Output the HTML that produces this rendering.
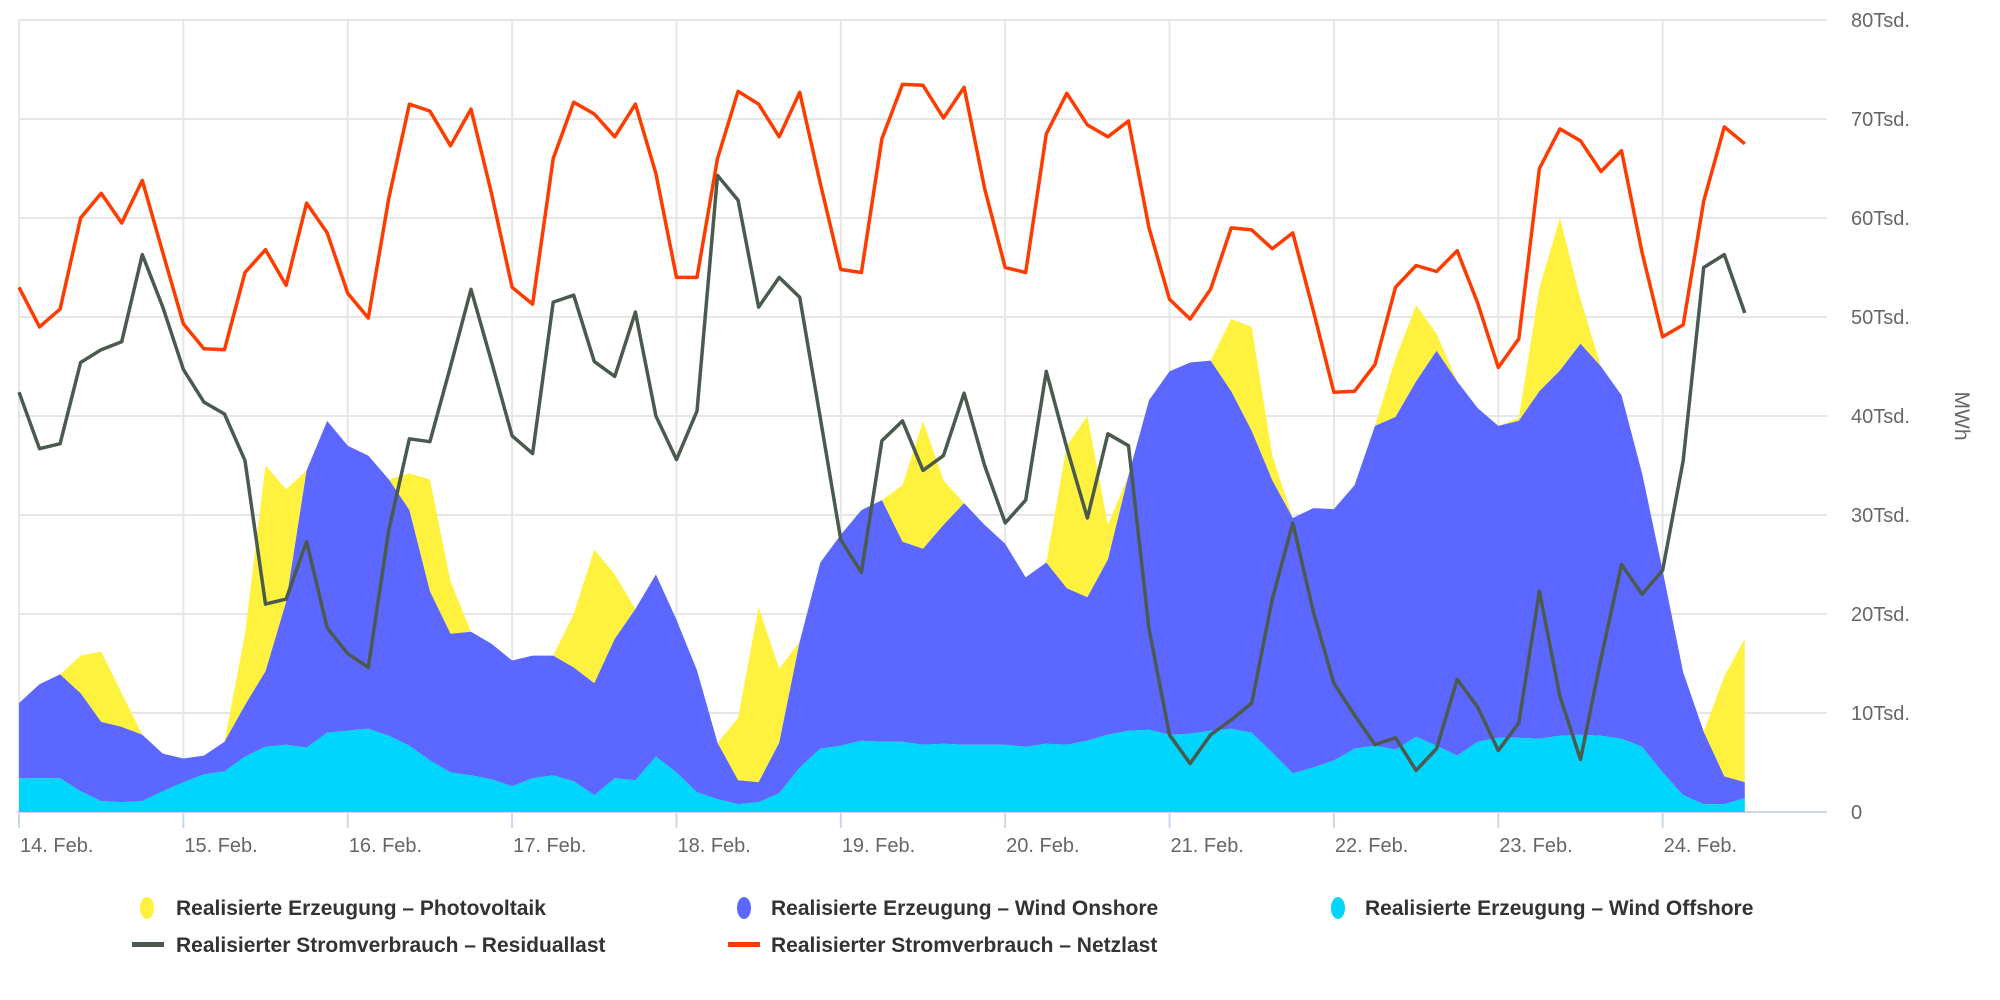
<!DOCTYPE html>
<html><head><meta charset="utf-8">
<style>
html,body{margin:0;padding:0;background:#fff;width:2000px;height:1000px;overflow:hidden}
svg{display:block;font-family:"Liberation Sans",sans-serif}
</style></head>
<body>
<svg id="chart" width="2000" height="1000" viewBox="0 0 2000 1000" xmlns="http://www.w3.org/2000/svg">
<g id="grid"></g>
<g id="areas"></g>
<g id="lines"></g>
<g id="axes"></g>
<text x="1955" y="416" transform="rotate(90 1955 416)" text-anchor="middle" font-size="21" fill="#666">MWh</text>
<g font-size="21" font-weight="bold" fill="#333">
 <g><ellipse cx="147" cy="908" rx="7" ry="11" fill="#fff23f"/><text x="176" y="915">Realisierte Erzeugung – Photovoltaik</text></g>
 <g><ellipse cx="744" cy="908" rx="7" ry="11" fill="#5b67ff"/><text x="771" y="915">Realisierte Erzeugung – Wind Onshore</text></g>
 <g><ellipse cx="1338" cy="908" rx="7" ry="11" fill="#00d5ff"/><text x="1365" y="915">Realisierte Erzeugung – Wind Offshore</text></g>
 <g><rect x="132" y="942" width="32" height="5" fill="#4b5a4f"/><text x="176" y="952">Realisierter Stromverbrauch – Residuallast</text></g>
 <g><rect x="728" y="942" width="32" height="5" fill="#ff3c00"/><text x="771" y="952">Realisierter Stromverbrauch – Netzlast</text></g>
</g>
</svg>
<script>
// hours since 14 Feb 00:00, one sample every 3 hours
const hours = Array.from({length:85},(_,i)=>i*3);
const dayLabels = ["14. Feb.","15. Feb.","16. Feb.","17. Feb.","18. Feb.","19. Feb.","20. Feb.","21. Feb.","22. Feb.","23. Feb.","24. Feb."];
const yTicks = [0,10,20,30,40,50,60,70,80];
const yTickLabels = ["0","10Tsd.","20Tsd.","30Tsd.","40Tsd.","50Tsd.","60Tsd.","70Tsd.","80Tsd."];
const offshore = [3.4,3.4,3.4,2.1,1.1,1,1.1,2.1,3,3.8,4.1,5.6,6.6,6.8,6.5,8,8.2,8.4,7.7,6.7,5.2,4,3.7,3.3,2.6,3.4,3.7,3.1,1.7,3.4,3.2,5.6,4,2,1.3,0.8,1,1.9,4.5,6.4,6.7,7.2,7.1,7.1,6.8,6.9,6.8,6.8,6.8,6.6,6.9,6.8,7.2,7.8,8.2,8.3,7.8,7.9,8.2,8.4,8,6,3.9,4.5,5.2,6.4,6.7,6.3,7.6,6.7,5.7,7.1,7.5,7.5,7.4,7.7,7.8,7.7,7.4,6.6,4,1.7,0.8,0.8,1.4];
const onshore = [7.6,9.5,10.5,9.9,8,7.6,6.7,3.8,2.4,1.9,3,5.2,7.6,14.4,28,31.5,28.8,27.6,25.9,23.8,17.1,14,14.5,13.7,12.7,12.4,12.1,11.5,11.3,14.1,17.3,18.4,15.4,12.3,5.7,2.4,2,5.1,12.7,18.8,21.3,23.3,24.4,20.2,19.8,22.1,24.4,22.2,20.3,17.1,18.3,15.8,14.5,17.7,25.8,33.3,36.7,37.5,37.4,34.1,30.5,27.5,25.8,26.2,25.4,26.6,32.3,33.6,35.9,39.9,37.8,33.7,31.5,32,35.1,36.9,39.5,37.3,34.7,27.6,20.4,12.4,7.3,2.8,1.6];
const photovoltaik = [0,0,0,3.8,7.1,3.4,0,0,0,0,0,7.2,20.8,11.4,0,0,0,0,0,3.7,11.3,5.3,0,0,0,0,0,5.4,13.5,6.5,0,0,0,0,0,6.3,17.7,7.5,0,0,0,0,0,5.7,12.9,4.5,0,0,0,0,0,14.4,18.3,3.5,0,0,0,0,0,7.3,10.5,2.5,0,0,0,0,0,5.9,7.7,1.7,0,0,0,0.3,10.4,15.4,4.5,0,0,0,0,0,0,10.1,14.5];
const residuallast = [42.4,36.7,37.2,45.4,46.7,47.5,56.3,51,44.7,41.4,40.2,35.5,21,21.5,27.3,18.6,16,14.6,28.5,37.7,37.4,45,52.8,45.5,38,36.2,51.5,52.2,45.5,44,50.5,40,35.6,40.5,64.3,61.8,51,54,52,39.8,27.5,24.2,37.5,39.5,34.5,36,42.3,35,29.2,31.5,44.5,36.8,29.7,38.2,37,18.5,7.8,4.9,7.8,9.3,11,21.5,29.2,20.2,13,9.8,6.8,7.5,4.2,6.4,13.4,10.6,6.2,9,22.3,11.7,5.3,15.5,25,22,24.4,35.5,55,56.3,50.4];
const netzlast = [53,49,50.8,60,62.5,59.5,63.8,56.5,49.3,46.8,46.7,54.5,56.8,53.2,61.5,58.5,52.4,49.9,62,71.5,70.8,67.3,71,62.5,53,51.3,66,71.7,70.5,68.2,71.5,64.5,54,54,66,72.8,71.5,68.2,72.7,63.5,54.8,54.5,68,73.5,73.4,70.1,73.2,63,55,54.5,68.5,72.6,69.4,68.2,69.8,59,51.8,49.8,52.8,59,58.8,56.9,58.5,50.6,42.4,42.5,45.2,53,55.2,54.6,56.7,51.4,44.9,47.8,65,69,67.8,64.7,66.8,56.5,48,49.2,61.7,69.2,67.5];

const NS="http://www.w3.org/2000/svg";
const X0=19, X1=1827, Y0=812, Y1=20, TMAX=264, VMAX=80;
const xs = t => X0 + (X1-X0)*t/TMAX;
const ys = v => Y0 - (Y0-Y1)*v/VMAX;
function mk(tag, attrs, parent){const e=document.createElementNS(NS,tag);for(const k in attrs)e.setAttribute(k,attrs[k]);parent.appendChild(e);return e;}

const grid=document.getElementById('grid'), axes=document.getElementById('axes');
yTicks.forEach((v,i)=>{
  const l=mk('line',{x1:X0,x2:X1,y1:ys(v),y2:ys(v),stroke:i===0?'#ccd6eb':'#e6e6e6','stroke-width':2},grid);
  
  
  const t=mk('text',{x:1851,y:ys(v)+7,'font-size':20,fill:'#666'},axes);
  t.textContent=yTickLabels[i];
  
  
});
dayLabels.forEach((d,i)=>{
  const x=xs(i*24);
  const g=mk('line',{x1:x,x2:x,y1:Y1,y2:Y0,stroke:'#e6e6e6','stroke-width':2},grid);
  
  
  const tk=mk('line',{x1:x,x2:x,y1:Y0,y2:Y0+16,stroke:'#ccd6eb','stroke-width':2},axes);
  
  
  const t=mk('text',{x:x+1,y:852,'font-size':20,fill:'#666'},axes);
  t.textContent=d;
  
  
});

const areas=document.getElementById('areas');
const series=[[offshore,'#00d5ff','area-wind-offshore'],[onshore,'#5b67ff','area-wind-onshore'],[photovoltaik,'#fff23f','area-photovoltaik']];
let base=hours.map(()=>0);
const drawn=[];
series.forEach(([vals,col,name])=>{
  const top=base.map((b,i)=>b+vals[i]);
  drawn.push([top,base,col,name]);
  base=top;
});
drawn.reverse().forEach(([top,bot,col,name])=>{
  let d='M'+hours.map((h,i)=>xs(h).toFixed(1)+','+ys(top[i]).toFixed(1)).join('L');
  d+='L'+hours.slice().reverse().map((h,j)=>{const i=hours.length-1-j;return xs(h).toFixed(1)+','+ys(bot[i]).toFixed(1);}).join('L')+'Z';
  const p=mk('path',{d:d,fill:col,stroke:'none'},areas);
  
  
});

const lines=document.getElementById('lines');
[[residuallast,'#4b5a4f','line-residuallast'],[netzlast,'#ff3c00','line-netzlast']].forEach(([vals,col,name])=>{
  const d='M'+hours.map((h,i)=>xs(h).toFixed(1)+','+ys(vals[i]).toFixed(1)).join('L');
  const p=mk('path',{d:d,fill:'none',stroke:col,'stroke-width':3.5,'stroke-linejoin':'round'},lines);
  
  
});
</script>
</body></html>
